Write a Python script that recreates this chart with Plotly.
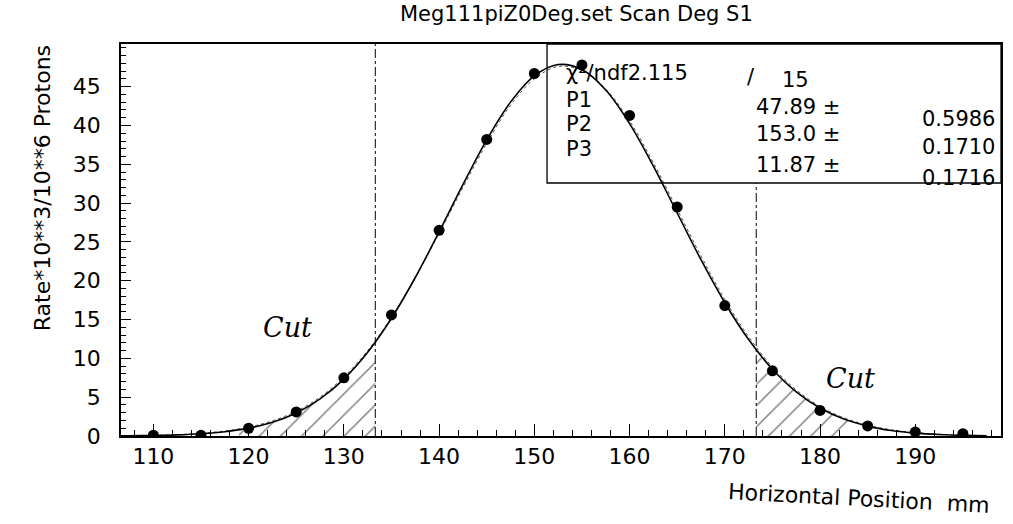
import plotly.graph_objects as go

# ---- data ----
pos_mm = [110, 115, 120, 125, 130, 135, 140, 145, 150, 155, 160, 165, 170, 175, 180, 185, 190, 195]
rate = [0.1, 0.1, 1.0, 3.1, 7.5, 15.6, 26.5, 38.2, 46.7, 47.8, 41.3, 29.5, 16.8, 8.4, 3.3, 1.3, 0.5, 0.3]

fit_x = [105, 107.5, 110, 112.5, 115, 117.5, 120, 122.5, 125, 127.5, 130, 132.5, 135, 137.5, 140,
         142.5, 145, 147.5, 150, 152.5, 155, 157.5, 160, 162.5, 165, 167.5, 170, 172.5, 175, 177.5,
         180, 182.5, 185, 187.5, 190, 192.5, 195, 197.5]
fit_y = [0.01, 0.03, 0.07, 0.14, 0.29, 0.55, 1.01, 1.76, 2.96, 4.77, 7.33, 10.78, 15.17, 20.42, 26.29,
         32.38, 38.16, 43.01, 46.39, 47.85, 47.21, 44.57, 40.25, 34.77, 28.73, 22.71, 17.17, 12.42, 8.60, 5.69,
         3.60, 2.18, 1.27, 0.70, 0.37, 0.19, 0.09, 0.04]
fit2_y = [0.02, 0.04, 0.09, 0.18, 0.35, 0.65, 1.15, 1.95, 3.2, 5.0, 7.6, 11.0, 15.3, 20.4, 26.1,
          32.0, 37.7, 42.6, 46.0, 47.6, 47.1, 44.7, 40.6, 35.2, 29.2, 23.2, 17.6, 12.8, 8.9, 5.95,
          3.8, 2.35, 1.4, 0.8, 0.44, 0.23, 0.12, 0.06]

hatch_left_x = [119, 121, 123, 125, 127, 129, 131, 133.3]
hatch_left_y = [0.6, 1.27, 1.97, 2.96, 4.35, 6.20, 8.60, 12.1]
hatch_right_x = [173.3, 175, 177, 179, 181, 183]
hatch_right_y = [11.1, 8.6, 6.2, 4.35, 2.96, 1.97]

cut_left = 133.3
cut_right = 173.3

x_ticks = [110, 120, 130, 140, 150, 160, 170, 180, 190]
y_ticks = [0, 5, 10, 15, 20, 25, 30, 35, 40, 45]

title_text = "Meg111piZ0Deg.set Scan Deg S1"
x_title = "Horizontal Position  mm"
y_title = "Rate*10**3/10**6 Protons"

stats_rows = [("P1", "47.89 \u00b1", "0.5986"),
              ("P2", "153.0 \u00b1", "0.1710"),
              ("P3", "11.87 \u00b1", "0.1716")]

# ---- layout geometry (pixels) ----
W, H = 1013, 524
L, R, T, B = 121, 1003, 44, 436
FONT = "DejaVu Sans"


def px(x):
    return (x - L) / (R - L)


def py(y):
    return (B - y) / (B - T)


fig = go.Figure()

# hatched cut regions
for hx, hy in [(hatch_left_x, hatch_left_y), (hatch_right_x, hatch_right_y)]:
    fig.add_trace(go.Scatter(x=hx, y=hy, mode="lines", line=dict(width=0),
                             fill="tozeroy", fillcolor="rgba(0,0,0,0)",
                             fillpattern=dict(shape="/", size=15, solidity=0.1,
                                              fgcolor="black", bgcolor="rgba(0,0,0,0)"),
                             hoverinfo="skip", showlegend=False))

# fit curves
fig.add_trace(go.Scatter(x=fit_x, y=fit2_y, mode="lines", line=dict(color="#555", width=1, dash="dot", shape="spline"),
                         showlegend=False))
fig.add_trace(go.Scatter(x=fit_x, y=fit_y, mode="lines", line=dict(color="black", width=1.6, shape="spline"),
                         showlegend=False))

# data points
fig.add_trace(go.Scatter(x=pos_mm, y=rate, mode="markers",
                         marker=dict(color="black", size=11), showlegend=False))

# cut lines
fig.add_shape(type="line", xref="x", yref="y", x0=cut_left, x1=cut_left, y0=0, y1=50.5,
              line=dict(color="black", width=1, dash="dashdot"))
fig.add_shape(type="line", xref="x", yref="paper", x0=cut_right, x1=cut_right, y0=0, y1=py(183),
              line=dict(color="black", width=1, dash="dashdot"))

# stats box
fig.add_shape(type="rect", xref="paper", yref="paper", x0=px(548), x1=1, y0=py(183), y1=1,
              line=dict(color="black", width=1.3), fillcolor="rgba(0,0,0,0)")

ann = []
fs = 21
ann.append(dict(x=px(566), y=py(73), text="\u03c7\u00b2/ndf2.115", xanchor="left"))
ann.append(dict(x=px(752), y=py(77), text="/", xanchor="center"))
ann.append(dict(x=px(797), y=py(80), text="15", xanchor="center"))
row_y = [(100, 107, 119), (124, 134, 147), (149, 165, 178)]
for (name, val, err), (y1, y2, y3) in zip(stats_rows, row_y):
    ann.append(dict(x=px(566), y=py(y1), text=name, xanchor="left"))
    ann.append(dict(x=px(843), y=py(y2), text=val, xanchor="right"))
    ann.append(dict(x=px(998), y=py(y3), text=err, xanchor="right"))
for a in ann:
    a.update(xref="paper", yref="paper", yanchor="middle", showarrow=False, borderpad=0,
             font=dict(family=FONT, size=fs, color="black"))
    fig.add_annotation(**a)

# title, axis titles, Cut labels
fig.add_annotation(x=px(578), y=py(14), xref="paper", yref="paper", text=title_text, showarrow=False,
                   xanchor="center", yanchor="middle", font=dict(family=FONT, size=21, color="black"))
fig.add_annotation(x=px(995), y=py(498), xref="paper", yref="paper", text=x_title, showarrow=False,
                   xanchor="right", yanchor="middle", textangle=3,
                   font=dict(family=FONT, size=22, color="black"))
fig.add_annotation(x=px(42), y=py(188), xref="paper", yref="paper", text=y_title, showarrow=False,
                   xanchor="center", yanchor="middle", textangle=-90,
                   font=dict(family=FONT, size=22, color="black"))
fig.add_annotation(x=px(288), y=py(327), xref="paper", yref="paper", text="Cut", showarrow=False,
                   xanchor="center", yanchor="middle",
                   font=dict(family="DejaVu Serif", size=27, color="black", style="italic"))
fig.add_annotation(x=px(852), y=py(378), xref="paper", yref="paper", text="Cut", showarrow=False,
                   xanchor="center", yanchor="middle",
                   font=dict(family="DejaVu Serif", size=27, color="black", style="italic"))

pad = "<span style='color:rgba(0,0,0,0)'>..</span>"
fig.update_xaxes(range=[106.6, 199], tickvals=x_ticks, ticks="inside", ticklen=12, tickwidth=1.2,
                 tickcolor="black", showline=True, linecolor="black", linewidth=1.5, mirror=True,
                 showgrid=False, zeroline=False,
                 minor=dict(tick0=0, dtick=2, ticks="inside", ticklen=6, tickcolor="black", showgrid=False),
                 tickfont=dict(family=FONT, size=22, color="black"))
fig.update_yaxes(range=[0, 50.5], tickvals=y_ticks, ticktext=[f"{v}{pad}" for v in y_ticks],
                 ticks="inside", ticklen=10, tickwidth=1.2,
                 tickcolor="black", showline=True, linecolor="black", linewidth=1.5, mirror=True,
                 showgrid=False, zeroline=False,
                 minor=dict(tick0=0, dtick=1, ticks="inside", ticklen=5, tickcolor="black", showgrid=False),
                 tickfont=dict(family=FONT, size=22, color="black"))

fig.update_layout(width=W, height=H, margin=dict(l=L, r=W - R, t=T, b=H - B),
                  paper_bgcolor="white", plot_bgcolor="white", showlegend=False)

fig.write_html("out.html")
